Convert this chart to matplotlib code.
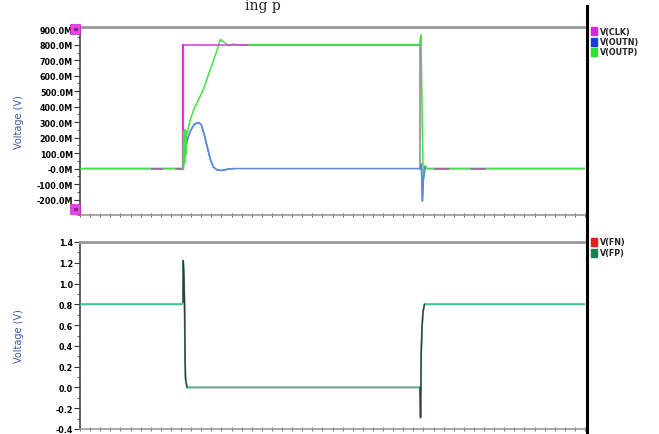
import numpy as np
import matplotlib
matplotlib.use('Agg')
import matplotlib.pyplot as plt
from matplotlib.patches import Rectangle
from matplotlib.ticker import FuncFormatter, MultipleLocator

# time axis in ns (no labels shown on the original)
T_END = 50.0

# V(CLK) in mV
t_clk = [0, 10.2, 10.2, 33.66, 33.66, 50]
v_clk = [0, 0, 800, 800, 0, 0]

# V(OUTP) in mV
t_outp = [0, 10.1, 10.22, 10.28, 10.34, 10.4, 10.46, 10.52, 10.6, 10.9, 11.3, 11.7, 12.2,
          12.9, 13.6, 13.9, 14.3, 14.7, 15.2, 15.8, 16.8, 33.66, 33.76, 33.86, 33.96,
          34.06, 34.16, 34.36, 50]
v_outp = [0, 0, 0, 240, 40, 250, 90, 240, 230, 310, 390, 440, 510,
          640, 770, 835, 815, 795, 805, 798, 800, 800, 860, 420, 0,
          -60, 20, 0, 0]

# V(OUTN) in mV
t_outn = [0, 10.2, 10.3, 10.6, 10.9, 11.3, 11.7, 12.0, 12.3, 12.6, 12.9, 13.2, 13.6,
          14.1, 14.7, 15.3, 33.66, 33.8, 33.9, 34.0, 34.16, 34.36, 50]
v_outn = [0, 0, 60, 180, 240, 285, 298, 285, 220, 140, 60, 10, -10,
          -12, -3, 0, 0, 30, -210, -60, 10, 0, 0]

# V(FN) / V(FP) in V (both traces overlap)
t_fp = [0, 10.1, 10.2, 10.22, 10.3, 10.35, 10.4, 10.45, 10.6, 33.66, 33.72, 33.78,
        33.85, 33.95, 34.1, 50]
v_fp = [0.8, 0.8, 0.82, 1.22, 1.05, 0.8, 0.3, 0.08, 0.0, 0.0, -0.29, 0.3,
        0.55, 0.72, 0.8, 0.8]

top_ticks = [-200, -100, 0, 100, 200, 300, 400, 500, 600, 700, 800, 900]
bot_ticks = [-0.4, -0.2, 0.0, 0.2, 0.4, 0.6, 0.8, 1.0, 1.2, 1.4]

W, H = 659, 435
fig = plt.figure(figsize=(W / 100, H / 100), dpi=100)


def fx(px):
    return px / W


def fy(py):
    return 1 - py / H


ax1 = fig.add_axes([fx(80), fy(216), fx(505), (216 - 28) / H])
ax2 = fig.add_axes([fx(80), fy(430), fx(505), (430 - 243) / H])

for ax in (ax1, ax2):
    ax.set_xlim(0, T_END)
    ax.xaxis.set_major_locator(MultipleLocator(1))
    ax.xaxis.set_major_formatter(FuncFormatter(lambda v, p: ''))
    ax.tick_params(axis='x', direction='inout', length=3, width=0.6, color='#555555')
    ax.tick_params(axis='y', direction='out', length=4, width=0.8, color='#333333',
                   labelsize=5.8, pad=1)
    ax.spines['top'].set_color('#9a9a9a')
    ax.spines['top'].set_linewidth(2)
    ax.spines['bottom'].set_color('#9a9a9a')
    ax.spines['bottom'].set_linewidth(1.2)
    ax.spines['left'].set_color('#444444')
    ax.spines['left'].set_linewidth(1.2)
    ax.spines['right'].set_visible(False)
    ax.set_ylabel('Voltage (V)', color='#3a5aa8', fontsize=7)
    ax.yaxis.set_label_coords(-0.11, 0.5)

# top panel
ax1.plot(t_outn, v_outn, color='#5a8ad8', lw=1.1, zorder=2)
ax1.plot(t_outp, v_outp, color='#44e044', lw=1.1, zorder=3)
ax1.plot([7.0, t_clk[1]], v_clk[0:2], color='#b050b0', lw=1.1, dashes=(8, 8),
         dash_capstyle='butt', zorder=4)
ax1.plot([35.0, 41.0], v_clk[4:6], color='#b050b0', lw=1.1, dashes=(10, 14),
         zorder=4)
ax1.plot(t_clk[2:4], v_clk[2:4], color='#e030e0', lw=1.1, zorder=4)
ax1.plot(t_clk[1:3], v_clk[1:3], color='#e030e0', lw=1.6, zorder=4)
ax1.plot(t_clk[3:5], v_clk[3:5], color='#909090', lw=1.2, zorder=4)
ax1.plot(t_outn[1:16], v_outn[1:16], color='#5a8ad8', lw=1.1, zorder=5)
ax1.plot(t_outn[16:21], v_outn[16:21], color='#5a8ad8', lw=1.1, zorder=5)
ax1.plot(t_outp[2:9], v_outp[2:9], color='#44e044', lw=1.4, zorder=6)
ax1.plot(t_outp[20:23], v_outp[20:23], color='#44e044', lw=1.4, zorder=6)
ax1.set_ylim(-300, 915)
ax1.set_yticks(top_ticks)
ax1.yaxis.set_major_formatter(FuncFormatter(
    lambda v, p: '-0.0M' if v == 0 else '%.1fM' % v))
ax1.yaxis.set_minor_locator(MultipleLocator(50))
ax1.tick_params(axis='y', which='minor', length=2, width=0.6, color='#333333')

# bottom panel
ax2.plot(t_fp, v_fp, color='#c03030', lw=1.0, zorder=2)
ax2.plot(t_fp, v_fp, color='#40c0a0', lw=1.3, zorder=3)
ax2.plot(t_fp[2:9], v_fp[2:9], color='#3a3a3a', lw=0.9, zorder=4)
ax2.plot(t_fp[9:15], v_fp[9:15], color='#3a3a3a', lw=0.9, zorder=4)
ax2.set_ylim(-0.4, 1.4)
ax2.set_yticks(bot_ticks)
ax2.yaxis.set_major_formatter(FuncFormatter(lambda v, p: '%.1f' % v))
ax2.yaxis.set_minor_locator(MultipleLocator(0.1))
ax2.tick_params(axis='y', which='minor', length=2, width=0.6, color='#333333')
for ax in (ax1, ax2):
    for lab in ax.get_yticklabels():
        lab.set_fontweight('bold')

# separator line between plots and legend
fig.add_artist(plt.Line2D([fx(587), fx(587)], [fy(7), 0], color='black', lw=2.2))

# legends
legend_top = [('V(CLK)', '#e020e0'), ('V(OUTN)', '#1a3cd0'), ('V(OUTP)', '#30e030')]
legend_bot = [('V(FN)', '#e02020'), ('V(FP)', '#1a8050')]
for items, y0 in ((legend_top, 32), (legend_bot, 243)):
    for i, (name, col) in enumerate(items):
        yy = y0 + i * 10.5
        fig.add_artist(Rectangle((fx(591), fy(yy + 4)), fx(6), 8 / H, color=col))
        fig.text(fx(600), fy(yy), name, fontsize=5.8, fontweight='bold',
                 va='center', ha='left', color='#222222')

# magenta markers on the top axis
for yy in (30, 210):
    fig.add_artist(Rectangle((fx(70), fy(yy + 5)), fx(10), 10 / H,
                             facecolor='#f040f0', edgecolor='#c020c0', lw=0.5))
    fig.add_artist(Rectangle((fx(73.5), fy(yy + 1)), fx(3), 2 / H, color='#803080'))

# caption fragment at the top
fig.text(fx(245), fy(10), 'ing p', fontsize=10, family='DejaVu Serif',
         va='baseline', ha='left', color='#222222')

fig.savefig('out.png', dpi=100)
